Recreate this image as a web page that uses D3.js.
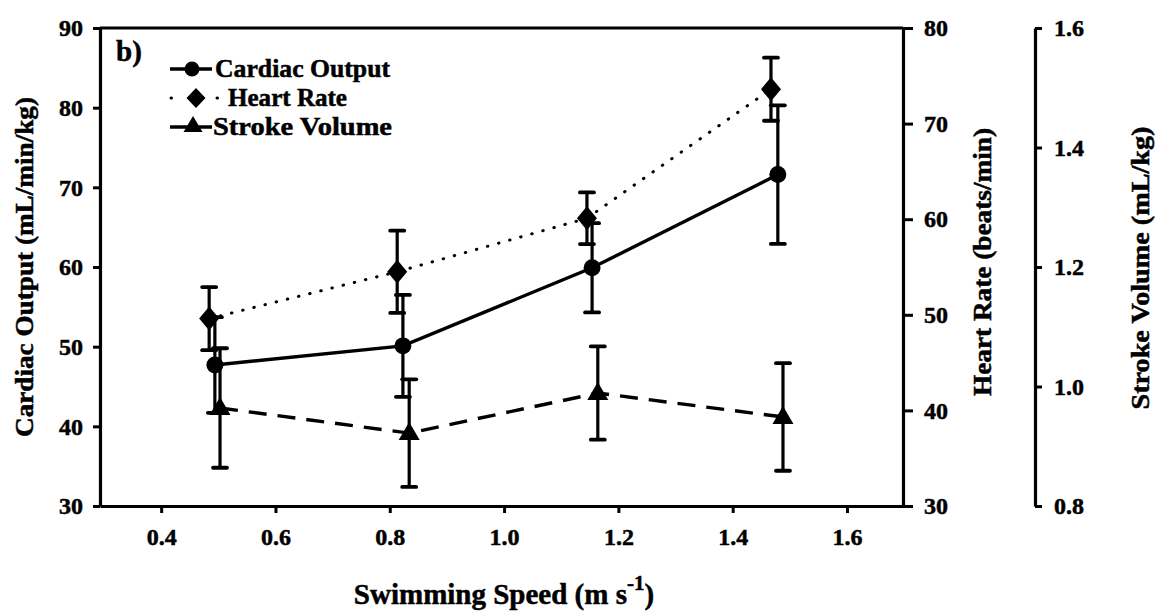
<!DOCTYPE html>
<html><head><meta charset="utf-8">
<script src="https://cdn.jsdelivr.net/npm/d3@7"></script>
<style>
body{margin:0;background:#fff;}
svg{display:block;font-family:"Liberation Serif","Times New Roman",serif;font-weight:bold;}
svg text{stroke:#000;stroke-width:0.5px;}
</style></head>
<body><svg id="c" width="1164" height="614"></svg>
<script>
// ---- data ----
const speedCO = [0.494, 0.823, 1.154, 1.479];
const cardiacOutput = [47.7, 50.1, 59.9, 71.6];
const coErr = [6.0, 6.4, 5.6, 8.7];
const speedHR = [0.484, 0.813, 1.145, 1.467];
const heartRate = [49.6, 54.5, 60.1, 73.6];
const hrErr = [3.3, 4.3, 2.7, 3.3];
const speedSV = [0.503, 0.834, 1.164, 1.488];
const strokeVolume = [0.964, 0.922, 0.989, 0.949];
const svErr = [0.10, 0.09, 0.078, 0.09];
const xTicks = [0.4, 0.6, 0.8, 1.0, 1.2, 1.4, 1.6];
const coTicks = [30, 40, 50, 60, 70, 80, 90];
const hrTicks = [30, 40, 50, 60, 70, 80];
const svTicks = [0.8, 1.0, 1.2, 1.4, 1.6];
const legendLabels = ["Cardiac Output", "Heart Rate", "Stroke Volume"];

const svg = d3.select("#c");
const L = 100, R = 903, T = 28, B = 506;
const x = d3.scaleLinear().domain([0.293, 1.698]).range([L, R]);
const yCO = d3.scaleLinear().domain([30, 90]).range([B, T]);
const yHR = d3.scaleLinear().domain([30, 80]).range([B, T]);
const ySV = d3.scaleLinear().domain([0.8, 1.6]).range([B, T]);

function styleAxis(g, fs) {
  g.select(".domain").attr("stroke", "#000").attr("stroke-width", 3.2);
  g.selectAll(".tick line").attr("stroke", "#000").attr("stroke-width", 3);
  g.selectAll(".tick text").attr("font-size", fs).attr("fill", "#000")
    .attr("font-family", "Liberation Serif").attr("font-weight", "bold");
}

// top border
svg.append("line").attr("x1", L).attr("x2", R).attr("y1", T).attr("y2", T)
  .attr("stroke", "#000").attr("stroke-width", 3.2);

// left axis
const gL = svg.append("g").attr("transform", `translate(${L},0)`)
  .call(d3.axisLeft(yCO).tickValues(coTicks).tickSize(7).tickSizeOuter(0).tickPadding(10));
styleAxis(gL, 24);
// bottom
const gB = svg.append("g").attr("transform", `translate(0,${B})`)
  .call(d3.axisBottom(x).tickValues(xTicks).tickFormat(d3.format(".1f")).tickSize(7).tickSizeOuter(0).tickPadding(15));
styleAxis(gB, 24);
// right HR axis
const gR = svg.append("g").attr("transform", `translate(${R},0)`)
  .call(d3.axisRight(yHR).tickValues(hrTicks).tickSize(10).tickSizeOuter(0).tickPadding(11));
styleAxis(gR, 24);
// SV axis
const gS = svg.append("g").attr("transform", `translate(1035,0)`)
  .call(d3.axisRight(ySV).tickValues(svTicks).tickFormat(d3.format(".1f")).tickSize(7).tickSizeOuter(0).tickPadding(12));
styleAxis(gS, 24);

// axis titles
svg.append("text").attr("transform", `translate(33,267) rotate(-90)`).attr("text-anchor", "middle")
  .attr("font-size", 26).attr("textLength", 340).attr("lengthAdjust", "spacingAndGlyphs")
  .text("Cardiac Output (mL/min/kg)");
svg.append("text").attr("transform", `translate(991,262) rotate(-90)`).attr("text-anchor", "middle")
  .attr("font-size", 26).attr("textLength", 268).attr("lengthAdjust", "spacingAndGlyphs")
  .text("Heart Rate (beats/min)");
svg.append("text").attr("transform", `translate(1149,268) rotate(-90)`).attr("text-anchor", "middle")
  .attr("font-size", 26).attr("textLength", 283).attr("lengthAdjust", "spacingAndGlyphs")
  .text("Stroke Volume (mL/kg)");
const xt = svg.append("text").attr("x", 504).attr("y", 604).attr("text-anchor", "middle").attr("font-size", 29);
xt.append("tspan").text("Swimming Speed (m s");
xt.append("tspan").attr("dy", -14).attr("font-size", 21).text("-1");
xt.append("tspan").attr("dy", 14).text(")");

// series
function series(xs, ys, errs, yScale, dash, sym) {
  const pts = xs.map((v, i) => ({x: x(v), y: yScale(ys[i]), lo: yScale(ys[i] - errs[i]), hi: yScale(ys[i] + errs[i])}));
  const line = d3.line().x(d => d.x).y(d => d.y);
  const g = svg.append("g");
  g.append("path").attr("d", line(pts)).attr("fill", "none").attr("stroke", "#000")
    .attr("stroke-width", dash === "dot" ? 3 : 3.4)
    .attr("stroke-dasharray", dash === "dot" ? "0.5,11" : dash === "dash" ? "18,11" : null)
    .attr("stroke-linecap", dash === "dot" ? "round" : "butt");
  pts.forEach(p => {
    g.append("line").attr("x1", p.x).attr("x2", p.x).attr("y1", p.hi).attr("y2", p.lo).attr("stroke", "#000").attr("stroke-width", 3.2);
    [p.hi, p.lo].forEach(yy => g.append("line").attr("x1", p.x - 7).attr("x2", p.x + 7).attr("y1", yy).attr("y2", yy)
      .attr("stroke", "#000").attr("stroke-width", 3.8).attr("stroke-linecap", "round"));
    g.append("path").attr("d", sym).attr("transform", `translate(${p.x},${p.y})`).attr("fill", "#000");
  });
}
const circleSym = d3.symbol().type(d3.symbolCircle).size(Math.PI * 72)();
const diamondSym = "M0,-12L10,0L0,12L-10,0Z";
const triSym = "M0,-11L10.5,7L-10.5,7Z";
series(speedSV, strokeVolume, svErr, ySV, "dash", triSym);
series(speedCO, cardiacOutput, coErr, yCO, "solid", circleSym);
series(speedHR, heartRate, hrErr, yHR, "dot", diamondSym);

// legend
svg.append("text").attr("x", 116).attr("y", 61).attr("font-size", 29).text("b)");
const rows = [69, 98, 127];
const lg = svg.append("g");
// row 1
lg.append("line").attr("x1", 170).attr("x2", 212).attr("y1", rows[0]).attr("y2", rows[0]).attr("stroke", "#000").attr("stroke-width", 3.4);
lg.append("path").attr("d", d3.symbol().type(d3.symbolCircle).size(Math.PI * 56)()).attr("transform", `translate(192,${rows[0]})`);
// row 2
lg.append("line").attr("x1", 171).attr("x2", 218).attr("y1", rows[1]).attr("y2", rows[1]).attr("stroke", "#000")
  .attr("stroke-width", 3).attr("stroke-dasharray", "0.5,22.5").attr("stroke-linecap", "round");
lg.append("path").attr("d", "M0,-10L9.5,0L0,10L-9.5,0Z").attr("transform", `translate(196,${rows[1]})`);
// row 3
lg.append("line").attr("x1", 170).attr("x2", 212).attr("y1", rows[2]).attr("y2", rows[2]).attr("stroke", "#000").attr("stroke-width", 3.4);
lg.append("path").attr("d", "M0,-10L9.5,6L-9.5,6Z").attr("transform", `translate(193,${rows[2] - 1})`);
const lx = [215, 228, 213], lw = [175, 119, 179];
legendLabels.forEach((t, i) => {
  lg.append("text").attr("x", lx[i]).attr("y", rows[i] + 8).attr("font-size", 25)
    .attr("textLength", lw[i]).attr("lengthAdjust", "spacingAndGlyphs").text(t);
});
</script></body></html>
